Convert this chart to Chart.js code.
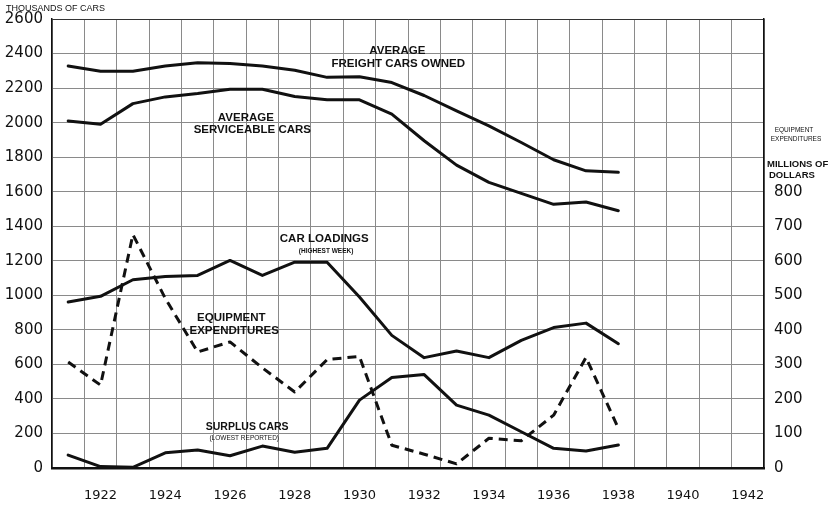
<!DOCTYPE html>
<html>
<head>
<meta charset="utf-8">
<script src="https://cdn.jsdelivr.net/npm/chart.js@4/dist/chart.umd.min.js"></script>
<style>
html,body{margin:0;padding:0;background:#fff;}
#wrap{width:830px;height:505px;}
</style>
</head>
<body>
<div id="wrap"><canvas id="c" width="830" height="505"></canvas></div>
<script>
// Categories (years)
const years = [1921,1922,1923,1924,1925,1926,1927,1928,1929,1930,1931,1932,1933,1934,1935,1936,1937,1938,1939,1940,1941,1942];
// Thousands of cars (left axis)
const freightCarsOwned = [2328,2298,2298,2328,2347,2343,2328,2303,2262,2266,2232,2157,2068,1981,1885,1785,1721,1712,null,null,null,null];
const serviceableCars  = [2010,1991,2110,2149,2168,2193,2193,2151,2132,2132,2049,1895,1754,1654,1590,1527,1540,1490,null,null,null,null];
const carLoadings      = [961,994,1090,1109,1115,1202,1115,1192,1192,990,768,639,678,639,739,813,839,720,null,null,null,null];
const surplusCars      = [75,8,4,88,104,71,127,91,114,393,524,541,364,306,210,114,98,133,null,null,null,null];
// Millions of dollars (right axis)
const equipmentExpenditures = [307,240,676,491,336,365,290,220,314,323,66,40,12,86,79,153,320,115,null,null,null,null];
// Tick settings
const leftTickMax = 2600, leftTickStep = 200;
const rightTickMax = 1300, rightTickStep = 100, rightLabelMax = 800;

// In-chart labels, positioned in data units (year, thousands of cars)
const seriesLabels = [
  {text:'AVERAGE', year:1931.17, value:2415, font:'bold 11.5px "Liberation Sans"'},
  {text:'FREIGHT CARS OWNED', year:1931.2, value:2341, font:'bold 11.5px "Liberation Sans"'},
  {text:'AVERAGE', year:1926.49, value:2028, font:'bold 11.5px "Liberation Sans"'},
  {text:'SERVICEABLE CARS', year:1926.69, value:1958, font:'bold 11.5px "Liberation Sans"'},
  {text:'CAR LOADINGS', year:1928.91, value:1329, font:'bold 11.5px "Liberation Sans"'},
  {text:'(HIGHEST WEEK)', year:1928.97, value:1255, font:'bold 6.5px "Liberation Sans"'},
  {text:'EQUIPMENT', year:1926.04, value:872, font:'bold 11.5px "Liberation Sans"'},
  {text:'EXPENDITURES', year:1926.13, value:797, font:'bold 11.5px "Liberation Sans"'},
  {text:'SURPLUS CARS', year:1926.53, value:239, font:'bold 10.5px "Liberation Sans"'},
  {text:'(LOWEST REPORTED)', year:1926.44, value:173, font:'6.5px "Liberation Sans"'}
];

const labelPlugin = {
  id: 'labels',
  afterDatasetsDraw(chart) {
    const ctx = chart.ctx;
    const xs = chart.scales.x, ys = chart.scales.y;
    ctx.save();
    ctx.fillStyle = '#111';
    ctx.textAlign = 'center';
    ctx.textBaseline = 'middle';
    seriesLabels.forEach(l => {
      ctx.font = l.font;
      const px = xs.getPixelForValue(l.year - years[0]);
      const py = ys.getPixelForValue(l.value);
      ctx.fillText(l.text, px, py);
    });
    // Axis titles
    ctx.textAlign = 'left';
    ctx.font = '9px "Liberation Sans"';
    ctx.fillText('THOUSANDS OF CARS', 6, 9);
    ctx.font = '6.5px "Liberation Sans"';
    ctx.textAlign = 'center';
    ctx.fillText('EQUIPMENT', 794, 130);
    ctx.fillText('EXPENDITURES', 796, 139);
    ctx.font = 'bold 9.5px "Liberation Sans"';
    ctx.textAlign = 'left';
    ctx.fillText('MILLIONS OF', 767, 164);
    ctx.fillText('DOLLARS', 769, 175);
    ctx.restore();
  }
};

const lineStyle = {borderColor:'#111', borderWidth:3, pointRadius:0, fill:false, tension:0, spanGaps:false, borderJoinStyle:'round', borderCapStyle:'round'};

new Chart(document.getElementById('c'), {
  type: 'line',
  data: {
    labels: years,
    datasets: [
      Object.assign({label:'Average freight cars owned', data: freightCarsOwned, yAxisID:'y'}, lineStyle),
      Object.assign({label:'Average serviceable cars', data: serviceableCars, yAxisID:'y'}, lineStyle),
      Object.assign({label:'Car loadings (highest week)', data: carLoadings, yAxisID:'y'}, lineStyle),
      Object.assign({label:'Surplus cars (lowest reported)', data: surplusCars, yAxisID:'y'}, lineStyle),
      Object.assign({}, lineStyle, {label:'Equipment expenditures', data: equipmentExpenditures, yAxisID:'y2', borderDash:[9,6], borderCapStyle:'butt'})
    ]
  },
  options: {
    responsive: false,
    animation: false,
    devicePixelRatio: 1,
    layout: {padding: {top: 18, left: 0, right: 0, bottom: 0}},
    plugins: {legend: {display:false}, tooltip: {enabled:false}},
    scales: {
      x: {
        type: 'category',
        offset: true,
        grid: {offset: true, color: '#8a8a8a', lineWidth: 1, drawTicks: false},
        border: {color: '#111', width: 2.5},
        ticks: {
          autoSkip: false, maxRotation: 0, padding: 20,
          color: '#111', font: {family: '"DejaVu Sans"', size: 13},
          callback: function(v, i) { return years[i] % 2 === 0 ? String(years[i]) : ''; }
        },
        afterFit: s => { s.height = 37; }
      },
      y: {
        position: 'left',
        min: 0, max: leftTickMax,
        grid: {color: ctx => ctx.tick && ctx.tick.value === leftTickMax ? '#333' : '#8a8a8a', lineWidth: 1, drawTicks: false},
        border: {color: '#111', width: 1.5},
        ticks: {stepSize: leftTickStep, padding: 9, color: '#111', font: {family: '"DejaVu Sans"', size: 15},
          callback: v => String(v)},
        afterFit: s => { s.width = 52; }
      },
      y2: {
        position: 'right',
        min: 0, max: rightTickMax,
        grid: {display: false, drawTicks: false},
        border: {color: '#111', width: 1.5},
        ticks: {stepSize: rightTickStep, padding: 10, color: '#111', font: {family: '"DejaVu Sans"', size: 15},
          callback: v => v <= rightLabelMax ? String(v) : ''},
        afterFit: s => { s.width = 66; }
      }
    }
  },
  plugins: [labelPlugin]
});
</script>
</body>
</html>
